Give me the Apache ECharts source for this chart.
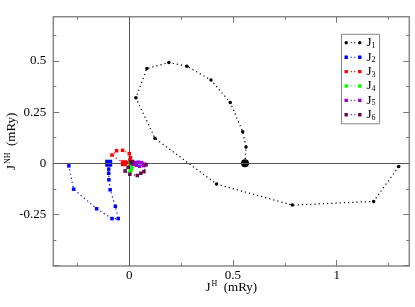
<!DOCTYPE html>
<html><head><meta charset="utf-8">
<script src="https://cdn.jsdelivr.net/npm/echarts@6/dist/echarts.min.js"></script>
<style>html,body{margin:0;padding:0;background:#fff}#c{width:415px;height:307px}</style>
</head><body><div id="c"></div>
<script>
// ---- data (J^H, J^NH in mRy) ----
const seriesNames = ['J1','J2','J3','J4','J5','J6'];
const J1x = [0.558, 0.563, 0.547, 0.487, 0.394, 0.278, 0.191, 0.085, 0.032, 0.124, 0.421, 0.786, 1.178, 1.299];
const J1y = [0.000, 0.079, 0.154, 0.297, 0.407, 0.475, 0.493, 0.463, 0.320, 0.122, -0.102, -0.205, -0.187, -0.016];
const J2x = [-0.099, -0.099, -0.099, -0.098, -0.092, -0.067, -0.053, -0.083, -0.157, -0.268, -0.291];
const J2y = [0.000, -0.029, -0.049, -0.081, -0.130, -0.211, -0.271, -0.271, -0.223, -0.127, -0.013];
const J3x = [-0.026, -0.083, -0.061, -0.032, 0.000, 0.006, 0.003, -0.010];
const J3y = [0.000, 0.040, 0.061, 0.063, 0.047, 0.028, 0.015, 0.003];
const J4x = [0.008, 0.012, 0.012, 0.008, 0.004];
const J4y = [0.000, -0.012, -0.025, -0.035, -0.042];
const J5x = [0.030, 0.045, 0.060, 0.075, 0.070, 0.050, 0.035, 0.020];
const J5y = [0.000, 0.005, 0.003, -0.005, -0.012, -0.015, -0.010, -0.005];
const J6x = [0.012, -0.005, -0.020, 0.003, 0.039, 0.056, 0.071, 0.081];
const J6y = [0.005, -0.020, -0.038, -0.054, -0.060, -0.049, -0.041, -0.008];
const seriesColors = ['#000000','#0000ff','#ff0000','#00ff00','#9400d3','#670748'];
const seriesSymbols = ['circle','rect','rect','rect','rect','rect'];
const startSizes = [8, 7, 6, 5, 5, 5];
// ---- axes ----
const xMin = -0.366, xMax = 1.35, yMin = -0.503, yMax = 0.717;
const xMajor = [0, 0.5, 1];
const xMinor = [-0.25, 0.25, 0.75, 1.25];
const xTickLabels = ['0', '0.5', '1'];
const yMajor = [-0.5, -0.25, 0, 0.25, 0.5];
const yMinor = [-0.375, -0.125, 0.125, 0.375, 0.625];
const yLabelVals = [-0.25, 0, 0.25, 0.5];
const yTickLabels = ['-0.25', '0', '0.25', '0.5'];

const allX = [J1x,J2x,J3x,J4x,J5x,J6x];
const allY = [J1y,J2y,J3y,J4y,J5y,J6y];
const FONT = 'Liberation Serif';

function mkX(pos, vals, len, labels) {
  return {
    type:'value', gridIndex:0, position:pos, min:xMin, max:xMax,
    axisLine:{show:false, onZero:false}, splitLine:{show:false},
    axisTick:{show:true, inside:true, length:len, customValues:vals, lineStyle:{color:'#777', width:1}},
    axisLabel: labels ? {show:true, customValues:xMajor, margin:3, color:'#000', fontFamily:FONT, fontSize:13,
      formatter: v => { const i = xMajor.findIndex(t => Math.abs(t - v) < 1e-9); return i >= 0 ? xTickLabels[i] : ''; }} : {show:false}
  };
}
function mkY(pos, vals, len, labels) {
  return {
    type:'value', gridIndex:0, position:pos, min:yMin, max:yMax,
    axisLine:{show:false, onZero:false}, splitLine:{show:false},
    axisTick:{show:true, inside:true, length:len, customValues:vals, lineStyle:{color:'#777', width:1}},
    axisLabel: labels ? {show:true, customValues:yLabelVals, margin:7, color:'#000', fontFamily:FONT, fontSize:13,
      formatter: v => { const i = yLabelVals.findIndex(t => Math.abs(t - v) < 1e-9); return i >= 0 ? yTickLabels[i] : ''; }} : {show:false}
  };
}
const xAxes = [mkX('bottom', xMajor, 6, true), mkX('bottom', xMinor, 3, false), mkX('top', xMajor, 6, false), mkX('top', xMinor, 3, false)];
xAxes[0].name = '{j|J}{s|H}{t|  (mRy)}';
xAxes[0].nameLocation = 'middle';
xAxes[0].nameGap = 14;
xAxes[0].nameMoveOverlap = false;
xAxes[0].nameTextStyle = {color:'#000', fontFamily:FONT, rich:{
  j:{fontFamily:FONT, fontSize:13, color:'#000'},
  s:{fontFamily:FONT, fontSize:8, color:'#000', padding:[0,0,7,1]},
  t:{fontFamily:FONT, fontSize:13, color:'#000'}}};
const yAxes = [mkY('left', yMajor, 6, true), mkY('left', yMinor, 3, false), mkY('right', yMajor, 6, false), mkY('right', yMinor, 3, false)];
yAxes[0].name = '{j|J}{s|NH}{t|  (mRy)}';
yAxes[0].nameLocation = 'middle';
yAxes[0].nameGap = 34;
yAxes[0].nameMoveOverlap = false;
yAxes[0].nameTextStyle = {color:'#000', fontFamily:FONT, rich:{
  j:{fontFamily:FONT, fontSize:13, color:'#000'},
  s:{fontFamily:FONT, fontSize:8, color:'#000', padding:[0,0,7,1]},
  t:{fontFamily:FONT, fontSize:13, color:'#000'}}};

const series = [{
  type:'line', name:'_zero', data:[], xAxisIndex:0, yAxisIndex:0, z:1, silent:true,
  markLine:{silent:true, symbol:['none','none'], label:{show:false}, animation:false,
    lineStyle:{color:'#555', width:1, type:'solid'},
    data:[{yAxis:0}, {xAxis:0}]}
}];
seriesNames.forEach((nm, k) => {
  const data = allX[k].map((x, i) => i === 0 ? {value:[x, allY[k][i]], symbolSize:startSizes[k]} : [x, allY[k][i]]);
  series.push({
    type:'line', name:nm, data, xAxisIndex:0, yAxisIndex:0, z:3 + k,
    symbol:seriesSymbols[k], symbolSize:3.5, showSymbol:true, animation:false,
    itemStyle:{color:seriesColors[k]},
    lineStyle:{color:seriesColors[k], width:1.2, type:[1.2, 3]}
  });
});

const iconCircle = 'path://M0,1.5a1.5,1.5 0 1,0 3,0a1.5,1.5 0 1,0 -3,0z M5.5,1h1v1h-1z M8.5,1h1v1h-1z M12,1.5a1.5,1.5 0 1,0 3,0a1.5,1.5 0 1,0 -3,0z';
const iconRect = 'path://M0,0h3v3h-3z M5.5,1h1v1h-1z M8.5,1h1v1h-1z M12,0h3v3h-3z';

const chart = echarts.init(document.getElementById('c'), null, {renderer:'canvas'});
chart.setOption({
  animation:false,
  backgroundColor:'#fff',
  grid:{left:53.3, top:16.7, right:5.7, bottom:41, show:true, borderColor:'#888', borderWidth:1.5, backgroundColor:'transparent', containLabel:false, outerBoundsMode:'none'},
  xAxis:xAxes, yAxis:yAxes,
  legend:{
    orient:'vertical', left:341.5, top:34.3, itemWidth:17, itemHeight:3.4, itemGap:0.9,
    borderColor:'#888', borderWidth:1, padding:[2,4,2,3], backgroundColor:'#fff',
    data: seriesNames.map((n, k) => ({name:n, icon: k === 0 ? iconCircle : iconRect})),
    formatter: n => '{j|J}{n|' + n.slice(1) + '}',
    textStyle:{fontFamily:FONT, color:'#000', rich:{
      j:{fontFamily:FONT, fontSize:13, color:'#000', lineHeight:14},
      n:{fontFamily:FONT, fontSize:8, color:'#000', padding:[6,0,0,0]}}},
    itemStyle:{borderWidth:0}
  },
  series
});
</script></body></html>
